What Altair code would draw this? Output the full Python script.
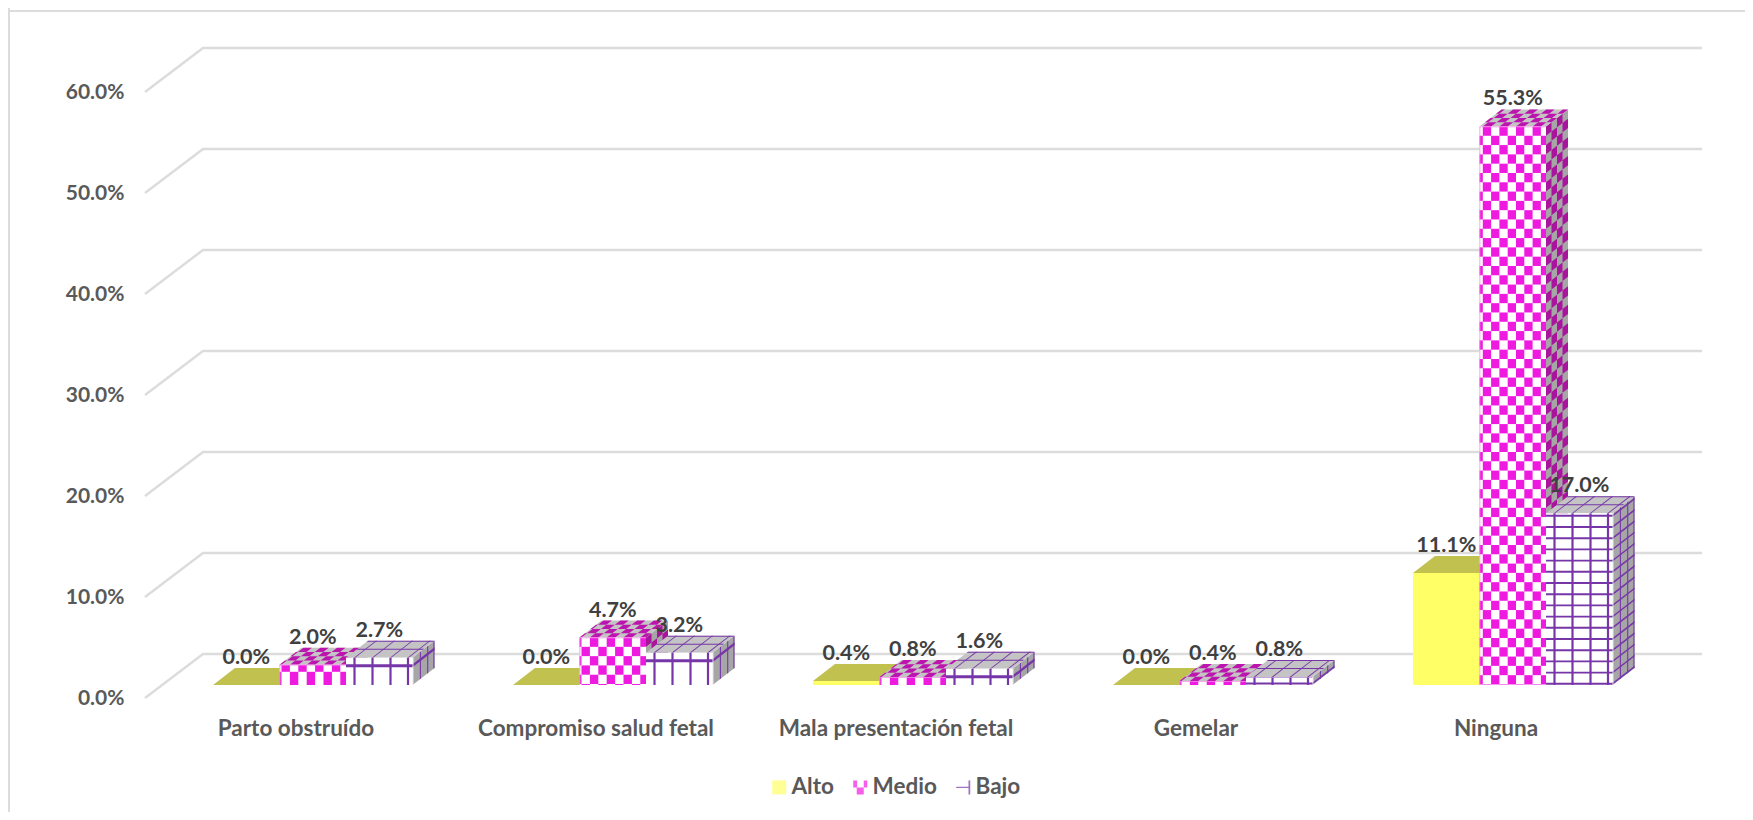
import altair as alt
import pandas as pd

categories = ["Parto obstruído", "Compromiso salud fetal", "Mala presentación fetal", "Gemelar", "Ninguna"]
alto = [0.0, 0.0, 0.4, 0.0, 11.1]
medio = [2.0, 4.7, 0.8, 0.4, 55.3]
bajo = [2.7, 3.2, 1.6, 0.8, 17.0]
series_names = ["Alto", "Medio", "Bajo"]
y_ticks = [0, 10, 20, 30, 40, 50, 60]

FONT = "Lato"
PXX = 300.0   # px per category unit
PXY = 10.1    # px per percent
ORIGIN_X = 213
ZERO_Y = 698

YEL, YEL_TOP = "#FFFF66", "#C1C14F"
MAG, MAG_SIDE, MAG_TOP = "#EF1ADF", "#A8149C", "#BC14AE"
PUR, GREY_SIDE, GREY_TOP = "#7636A8", "#A6A6A6", "#C4C4C4"
GRID = "#DCDCDC"

rows = []
pid = [0]


def poly(pts, color):
    """Convex polygon (px space relative to origin, up positive) -> area rows in data units."""
    pid[0] += 1
    xs = sorted(set(round(p[0], 4) for p in pts))
    n = len(pts)
    for x in xs:
        ys = []
        for k in range(n):
            (x1, y1), (x2, y2) = pts[k], pts[(k + 1) % n]
            lo, hi = min(x1, x2), max(x1, x2)
            if lo - 1e-3 <= x <= hi + 1e-3:
                if abs(x2 - x1) < 1e-6:
                    ys += [y1, y2]
                else:
                    ys.append(y1 + (y2 - y1) * (x - x1) / (x2 - x1))
        rows.append({"id": pid[0], "x": x / PXX, "y": max(ys) / PXY, "y2": min(ys) / PXY, "c": color})


W, DX, DY, BASE = 66.5, 22.0, 17.0, 13.0


class Bar:
    def __init__(self, i, j, v):
        self.L = 300.0 * i + W * j
        self.h = v * PXY
        self.B = BASE

    def front(self, a0, a1, b0, b1, c):
        a0, a1 = max(a0, 0), min(a1, W)
        b0, b1 = max(b0, 0), min(b1, self.h)
        if a1 <= a0 or b1 <= b0:
            return
        L, B = self.L, self.B
        poly([(L + a0, B + b0), (L + a1, B + b0), (L + a1, B + b1), (L + a0, B + b1)], c)

    def side(self, d0, d1, b0, b1, c):
        b0, b1 = max(b0, 0), min(b1, self.h)
        if b1 <= b0:
            return
        R, B = self.L + W, self.B
        poly([(R + d0 * DX, B + b0 + d0 * DY), (R + d1 * DX, B + b0 + d1 * DY),
              (R + d1 * DX, B + b1 + d1 * DY), (R + d0 * DX, B + b1 + d0 * DY)], c)

    def top(self, a0, a1, d0, d1, c):
        a0, a1 = max(a0, 0), min(a1, W)
        if a1 <= a0:
            return
        L, T = self.L, self.B + self.h
        poly([(L + a0 + d0 * DX, T + d0 * DY), (L + a1 + d0 * DX, T + d0 * DY),
              (L + a1 + d1 * DX, T + d1 * DY), (L + a0 + d1 * DX, T + d1 * DY)], c)


def medio_rows(h):
    if h < 9.6:
        return [(0, h)]
    if h < 25:
        return [(0, h - 7), (h - 7, h)]
    rs, t, step = [], h, 9.3
    while t > 0:
        rs.append((max(t - step, 0), t))
        t -= step
    return rs


def draw_alto(b):
    b.side(0, 1, 0, b.h, YEL_TOP)
    b.top(0, W, 0, 1, YEL_TOP)
    b.front(0, W, 0, b.h, YEL)


def draw_medio(b):
    tall = b.h > 100
    off, per = (3.3, 8.3) if tall else (2.0, 8.4)
    flip = 0 if tall else 1
    rs = medio_rows(b.h)
    # side
    b.side(0, 1, 0, b.h, GREY_SIDE)
    for r, (y0, y1) in enumerate(rs):
        for k in range(4):
            if (k + r) % 2 == 0:
                b.side(k / 4, (k + 1) / 4, y0, y1, MAG_SIDE)
    # top
    b.top(0, W, 0, 1, GREY_TOP)
    for r in range(4):
        for k in range(-1, 9):
            if (k + r) % 2 == flip:
                b.top(off + k * per, off + (k + 1) * per, r / 4, (r + 1) / 4, MAG_TOP)
    # front
    b.front(0, W, 0, b.h, "#FFFFFF")
    for r, (y0, y1) in enumerate(rs):
        for k in range(-1, 9):
            if (k + r) % 2 == flip:
                b.front(off + k * per, off + (k + 1) * per, y0, y1, MAG)
    b.front(0, 0.8, 0, b.h, "#F58CEB")
    b.front(0, W, b.h - 0.8, b.h, "#F58CEB")


VLINES = [8.5, 26.5, 44.5, 62.0]


def bajo_levels(h):
    if h > 100:
        out, t = [], h - 2.5
        while t > 0:
            out.append((t, 1.9))
            t -= 11.2
        return out
    if h <= 9:
        return [(1.5, 2.0)]
    return [(h - 8, 3.0)]


def draw_bajo(b):
    h = b.h
    lv = bajo_levels(h)
    b.side(0, 1, 0, h, GREY_SIDE)
    for d in (1 / 3, 2 / 3, 0.95):
        b.side(d, d + 0.05, 0, h, PUR)
    for t, lw in lv:
        b.side(0, 1, t - lw / 2, t + lw / 2, PUR)
    b.top(0, W, 0, 1, GREY_TOP)
    for a in VLINES:
        b.top(a - 0.7, a + 0.7, 0, 1, PUR)
    for d in (0.47, 0.94):
        b.top(0, W, d, d + 0.06, PUR)
    b.side(0, 0.04, 0, h, "#FFFFFF")
    b.front(0, W, 0, h, "#FFFFFF")
    for a in VLINES:
        b.front(a - 1.1, a + 1.1, 0, h, PUR)
    for t, lw in lv:
        b.front(0, W, t - lw / 2, t + lw / 2, PUR)
    if h <= 9:
        b.front(0, W, h - 0.8, h, "#B48ACF")


label_rows = []
for i in range(len(categories)):
    for j, (vals, fn) in enumerate(((alto, draw_alto), (medio, draw_medio), (bajo, draw_bajo))):
        v = vals[i]
        fn(Bar(i, j, v))
        label_rows.append({
            "x": (300.0 * i + W * j + W / 2) / PXX,
            "y": (BASE + DY) / PXY + v,
            "t": f"{v:.1f}%",
        })

polys = pd.DataFrame(rows)
labels = pd.DataFrame(label_rows)

# Wall grid: front tick -> back corner -> right end
grid_rows = []
for t in y_ticks:
    grid_rows.append({"t": t, "x": -68 / PXX, "y": t})
    grid_rows.append({"t": t, "x": -10 / PXX, "y": t + 44 / PXY})
    grid_rows.append({"t": t, "x": 1489 / PXX, "y": t + 44 / PXY})
grid = pd.DataFrame(grid_rows)

x_scale = alt.Scale(domain=[(8 - ORIGIN_X) / PXX, (1745 - ORIGIN_X) / PXX], nice=False, zero=False)
y_scale = alt.Scale(domain=[(ZERO_Y - 812) / PXY, (ZERO_Y - 8) / PXY], nice=False, zero=False)

CAT_OFF = 0.275
cat_pos = [i + CAT_OFF for i in range(len(categories))]
cat_expr = "[" + ",".join(f"'{c}'" for c in categories) + f"][round(datum.value-{CAT_OFF})]"

x_axis = alt.Axis(values=cat_pos, labelExpr=cat_expr, orient="bottom", offset=-84, domain=False, ticks=False,
                  grid=False, title=None, labelPadding=0, labelBaseline="middle", labelFont=FONT,
                  labelFontWeight="bold", labelFontSize=22.5, labelColor="#595959", labelOverlap=False,
                  labelFlush=False, labelBound=False, labelLimit=500)
y_axis = alt.Axis(values=y_ticks, labelExpr="format(datum.value,'.1f')+'%'", orient="left", offset=-116, domain=False,
                  ticks=False, grid=False, title=None, labelPadding=0, labelFont=FONT, labelFontWeight="bold",
                  labelFontSize=21, labelColor="#595959", labelOverlap=False, labelFlush=False, labelBound=False)

X = alt.X("x:Q", scale=x_scale, axis=x_axis)
Y = alt.Y("y:Q", scale=y_scale, axis=y_axis)

frame_left = alt.Chart(pd.DataFrame({"a": [0]})).mark_rule(color=GRID, strokeWidth=2).encode(
    x=alt.value(1), y=alt.value(0), y2=alt.value(804))
frame_top = alt.Chart(pd.DataFrame({"a": [0]})).mark_rule(color=GRID, strokeWidth=2).encode(
    x=alt.value(0), x2=alt.value(1737), y=alt.value(3))

grid_layer = alt.Chart(grid).mark_line(color=GRID, strokeWidth=2.4).encode(x=X, y=Y, detail="t:N")

bars_layer = alt.Chart(polys).mark_area(strokeWidth=0, interpolate="linear").encode(
    x=X,
    y=alt.Y("y:Q", scale=y_scale, axis=y_axis, stack=None),
    y2="y2:Q",
    detail="id:Q",
    fill=alt.Fill("c:N", scale=None, legend=None),
)

text_layer = alt.Chart(labels).mark_text(font=FONT, fontWeight="bold", fontSize=21.5, color="#404040", dy=-10,
                                         baseline="middle").encode(x=X, y=Y, text="t:N")

path_medio = "M-1,-1H-0.45V0H-1Z M0.5,-1H1V0H0.5Z M-0.5,0H0.5V1H-0.5Z"
path_bajo = "M-1,-0.08H0.75V0.08H-1Z M0.75,-1H1V1H0.75Z"
legend_df = pd.DataFrame({"s": series_names, "x": [0.0, 0.0, 0.0], "y": [0.0, 0.0, 0.0]})
lg = alt.Legend(title=None, orient="none", legendX=760, legendY=768, direction="horizontal",
                symbolSize=196, symbolStrokeWidth=0, labelFont=FONT, labelFontWeight="bold", labelFontSize=22.5,
                labelColor="#595959", labelOffset=1, columnPadding=15, padding=0)
legend_layer = alt.Chart(legend_df).mark_point(filled=True, size=0).encode(
    x=X, y=Y,
    color=alt.Color("s:N", scale=alt.Scale(domain=series_names, range=[YEL, MAG, PUR]), legend=lg),
    shape=alt.Shape("s:N", scale=alt.Scale(domain=series_names, range=["square", path_medio, path_bajo]), legend=lg),
)

chart = alt.layer(frame_left, frame_top, grid_layer, bars_layer, text_layer, legend_layer).properties(
    width=1737, height=804, padding=0, autosize=alt.AutoSizeParams(type="none"),
    background="#FFFFFF",
).configure_view(stroke=None)

chart.save("out.html", embed_options={"renderer": "svg", "actions": False})
